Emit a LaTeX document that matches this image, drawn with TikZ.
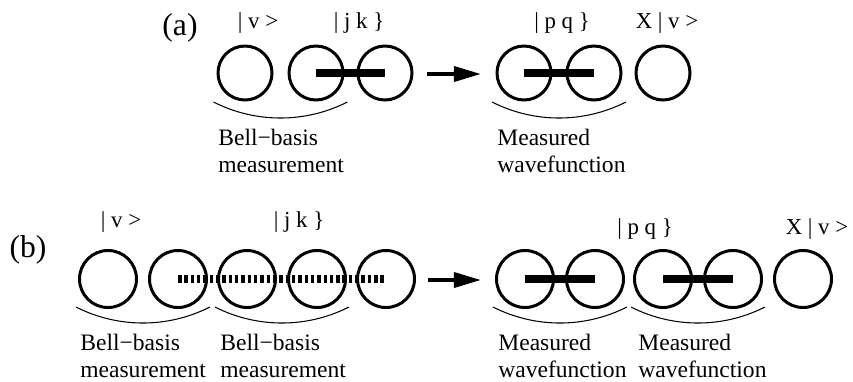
\documentclass[tikz,border=0pt]{standalone}
\usepackage{fontspec}
\setmainfont{Liberation Serif}
\usetikzlibrary{arrows.meta}
\usetikzlibrary{positioning}
\tikzset{site/.style = {draw, circle, line width=1.7pt, inner sep=0, minimum size=10.8mm}}
\tikzset{bsite/.style = {site, minimum size=11.4mm}}
\tikzset{bond/.style = {line width=4pt}}
\tikzset{dbond/.style = {line width=4pt, dash pattern=on 2pt off 1.6pt}}
\tikzset{pair/.style = {line width=0.6pt}}
\tikzset{flow/.style = {line width=2.2pt, -{Triangle[length=15.4pt, width=8.5pt]}}}
\tikzset{ket/.style = {font=\fontsize{13}{15}\selectfont, inner sep=0, anchor=base}}
\tikzset{caption/.style = {font=\fontsize{13.4}{15.4}\selectfont, align=left, inner sep=0, anchor=north west}}
\tikzset{panel/.style = {font=\fontsize{18}{21}\selectfont, inner sep=0, anchor=base}}

\begin{document}
\begin{tikzpicture}[x=0.2mm, y=-0.2mm]
            \useasboundingbox (0,0) rectangle (853,381);
            % (a)
            \node [panel] (pa) at (180,35) {(a)};
            \node [site] (a1) at (245,73) {};
            \node [site] (a2) at (316,73) {};
            \node [site] (a3) at (385,73) {};
            \node [site] (a4) at (524,73) {};
            \node [site] (a5) at (594,73) {};
            \node [site] (a6) at (663,73) {};
            \draw [bond] (a2.center)--(a3.center);
            \draw [bond] (a4.center)--(a5.center);
            \coordinate (fa) at (427,74);
            \coordinate (ta) at (481,74);
            \draw [flow] (fa)--(ta);
            \draw [pair] ([shift={(-31.5,29)}]a1.center) arc [start angle=116.9, end angle=63.1, radius=148];
            \draw [pair] ([shift={(-32,29)}]a4.center) arc [start angle=116.9, end angle=63.1, radius=148];
            \node [ket] (va) at (258,28) {| v >};
            \node [ket] (jka) at (359,28) {| j k \}};
            \node [ket] (pqa) at (562,28) {| p q \}};
            \node [ket] (xva) at (667,28) {X | v >};
            \node [caption] (ma) at (218,128.5) {Bell−basis\\measurement};
            \node [caption] (wa) at (497,128.5) {Measured\\wavefunction};
            % (b)
            \node [panel] (pb) at (28,257) {(b)};
            \node [bsite] (b1) at (108,279) {};
            \node [bsite] (b2) at (178,279) {};
            \node [bsite] (b3) at (247,279) {};
            \node [bsite] (b4) at (317,279) {};
            \node [bsite] (b5) at (386,279) {};
            \node [bsite] (c1) at (525,279) {};
            \node [bsite] (c2) at (595,279) {};
            \node [bsite] (c3) at (663,279) {};
            \node [bsite] (c4) at (733,279) {};
            \node [bsite] (c5) at (803,279) {};
            \draw [dbond] (b2.center)--(b5.center);
            \draw [bond] (c1.center)--(c2.center);
            \draw [bond] (c3.center)--(c4.center);
            \coordinate (fb) at (428,280);
            \coordinate (tb) at (481,280);
            \draw [flow] (fb)--(tb);
            \draw [pair] ([shift={(-32,28)}]b1.center) arc [start angle=116.9, end angle=63.1, radius=148];
            \draw [pair] ([shift={(-32,28)}]b3.center) arc [start angle=116.9, end angle=63.1, radius=148];
            \draw [pair] ([shift={(-32,28)}]c1.center) arc [start angle=116.9, end angle=63.1, radius=148];
            \draw [pair] ([shift={(-32,28)}]c3.center) arc [start angle=116.9, end angle=63.1, radius=148];
            \node [ket] (vb) at (121,227) {| v >};
            \node [ket] (jkb) at (299,227) {| j k \}};
            \node [ket] (pqb) at (645,234) {| p q \}};
            \node [ket] (xvb) at (817,234) {X | v >};
            \node [caption] (mb1) at (80,333.5) {Bell−basis\\measurement};
            \node [caption] (mb2) at (220,333.5) {Bell−basis\\measurement};
            \node [caption] (wb1) at (498,333.5) {Measured\\wavefunction};
            \node [caption] (wb2) at (638,333.5) {Measured\\wavefunction};
        \end{tikzpicture}
\end{document}
